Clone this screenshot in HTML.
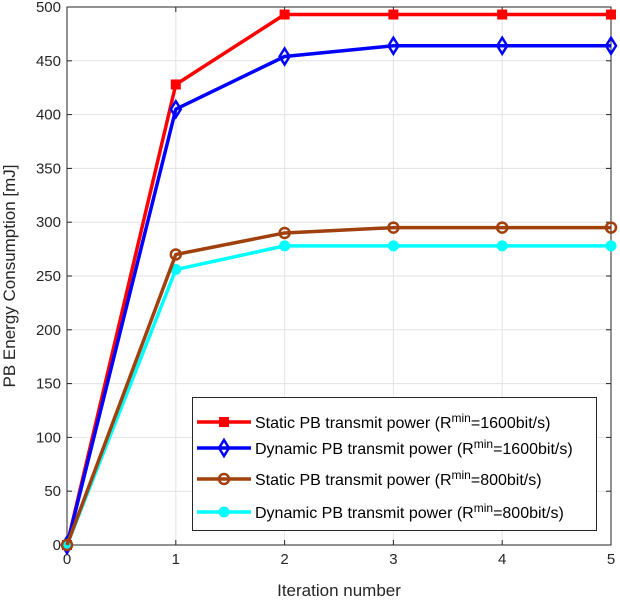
<!DOCTYPE html>
<html><head><meta charset="utf-8"><style>
html,body{margin:0;padding:0;background:#fff;}
svg{display:block;font-family:"Liberation Sans",sans-serif;}
</style></head><body>
<svg id="chart" width="620" height="600" viewBox="0 0 620 600" xmlns="http://www.w3.org/2000/svg">
<g id="grid"></g>
<g id="axes"></g>
<g id="series"></g>
<text x="339" y="596" font-size="17" text-anchor="middle" fill="#262626">Iteration number</text>
<text transform="translate(15,276) rotate(-90)" font-size="17" text-anchor="middle" fill="#262626">PB Energy Consumption [mJ]</text>
<g id="legend"></g>
</svg>
<script>
const categories=[0,1,2,3,4,5];
const xTicks=[0,1,2,3,4,5];
const yTicks=[0,50,100,150,200,250,300,350,400,450,500];
const staticHigh=[0,428,493,493,493,493];
const dynamicHigh=[0,405,454,464,464,464];
const staticLow=[0,270,290,295,295,295];
const dynamicLow=[0,256,278,278,278,278];
const seriesNames=["Static PB transmit power","Dynamic PB transmit power","Static PB transmit power","Dynamic PB transmit power"];
const seriesRates=["1600bit/s","1600bit/s","800bit/s","800bit/s"];

const NS="http://www.w3.org/2000/svg";
const L=67,R=611,T=7,B=545;
const xs=v=>L+(v-0)/5*(R-L);
const ys=v=>B-(v/500)*(B-T);
function mk(tag,attrs,parent){const e=document.createElementNS(NS,tag);for(const k in attrs)e.setAttribute(k,attrs[k]);parent.appendChild(e);return e;}
const grid=document.getElementById('grid'),axes=document.getElementById('axes'),ser=document.getElementById('series'),leg=document.getElementById('legend');
mk('rect',{x:L,y:T,width:R-L,height:B-T,fill:'#fff'},grid);
xTicks.forEach(t=>{
 const g=mk('line',{x1:xs(t),x2:xs(t),y1:T,y2:B,stroke:'#e3e3e3','stroke-width':1},grid);
 
 const tx=mk('text',{x:xs(t),y:B+19,'font-size':15,'text-anchor':'middle',fill:'#262626'},axes);tx.textContent=t;
 
 mk('line',{x1:xs(t),x2:xs(t),y1:B,y2:B-5,stroke:'#262626'},axes);
 mk('line',{x1:xs(t),x2:xs(t),y1:T,y2:T+5,stroke:'#262626'},axes);
});
yTicks.forEach(t=>{
 const g=mk('line',{x1:L,x2:R,y1:ys(t),y2:ys(t),stroke:'#e3e3e3','stroke-width':1},grid);
 
 const tx=mk('text',{x:L-6,y:ys(t)+5,'font-size':15,'text-anchor':'end',fill:'#262626'},axes);tx.textContent=t;
 
 mk('line',{x1:L,x2:L+5,y1:ys(t),y2:ys(t),stroke:'#262626'},axes);
 mk('line',{x1:R,x2:R-5,y1:ys(t),y2:ys(t),stroke:'#262626'},axes);
});
mk('rect',{x:L,y:T,width:R-L,height:B-T,fill:'none',stroke:'#262626','stroke-width':1},axes);

function marker(type,color,x,y,parent){
 if(type==='square')return mk('rect',{x:x-4.5,y:y-4.5,width:9,height:9,fill:color,stroke:color,'stroke-width':1},parent);
 if(type==='diamond')return mk('path',{d:`M${x} ${y-8}L${x+5} ${y}L${x} ${y+8}L${x-5} ${y}Z`,fill:'none',stroke:color,'stroke-width':2.5},parent);
 if(type==='circle')return mk('circle',{cx:x,cy:y,r:5,fill:'none',stroke:color,'stroke-width':2.5},parent);
 return mk('circle',{cx:x,cy:y,r:5,fill:color,stroke:color,'stroke-width':1},parent);
}
const defs=[[staticHigh,'#ff0000','square','static-1600'],[dynamicHigh,'#0000ff','diamond','dynamic-1600'],[staticLow,'#a0410d','circle','static-800'],[dynamicLow,'#00ffff','dot','dynamic-800']];
[0,1,3,2].forEach(i=>{
 const [d,c,m,n]=defs[i];
 const g=mk('g',{},ser);
 
 const p=mk('polyline',{points:d.map((v,j)=>xs(categories[j])+','+ys(v)).join(' '),fill:'none',stroke:c,'stroke-width':3.5,'stroke-linejoin':'round'},g);
 
 d.forEach((v,j)=>{const mm=marker(m,c,xs(categories[j]),ys(v),g);
  });
});
const lb=mk('rect',{x:192.5,y:397.5,width:404,height:133,fill:'#fff',stroke:'#262626','stroke-width':1},leg);

const ly=[422,448,479,512];
defs.forEach(([d,c,m,n],i)=>{
 const g=mk('g',{},leg);
 
 mk('line',{x1:197,x2:251,y1:ly[i],y2:ly[i],stroke:c,'stroke-width':3.5},g);
 marker(m,c,224,ly[i],g);
 const t=mk('text',{x:255,y:ly[i]+6,'font-size':16,fill:'#000'},g);
 t.appendChild(document.createTextNode(seriesNames[i]+' (R'));
 const s=mk('tspan',{dy:-6,'font-size':12},t);s.textContent='min';
 const r=mk('tspan',{dy:6},t);r.textContent='='+seriesRates[i]+')';
});
</script>
</body></html>
